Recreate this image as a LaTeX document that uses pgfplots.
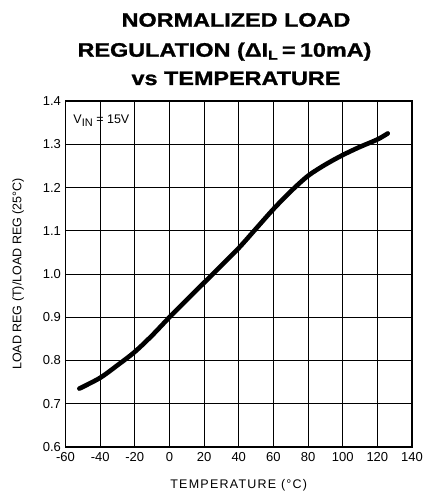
\documentclass[border=0pt]{standalone}
\usepackage{pgfplots}
\pgfplotsset{compat=1.18}
\usepackage{fontspec}
\setmainfont{Liberation Sans}
\newfontfamily\titlefont[FakeStretch=1.2, FakeBold=1.2]{Liberation Sans Bold}
\newfontfamily\xlabfont[LetterSpace=10]{Liberation Sans}
\begin{document}
\begin{tikzpicture}[x=1pt,y=1pt]
\path[use as bounding box] (-65.5,-49) rectangle (357.5,447);
\begin{scope}[every node/.style={font=\titlefont\fontsize{19.5}{24}\selectfont, anchor=base, inner sep=0pt}]
\node at (170.5,420.3) {NORMALIZED LOAD};
\node at (159,390.3) {REGULATION (ΔI\raisebox{-3pt}{\fontsize{13}{14}\selectfont L}\hspace{0.22em}=\hspace{0.22em}10mA)};
\node at (170.5,362) {vs TEMPERATURE};
\end{scope}
\begin{axis}[
  at={(0,0)}, anchor=south west,
  scale only axis, width=346.5pt, height=346pt,
  xmin=-60, xmax=140, ymin=0.6, ymax=1.4,
  xtick={-60,-40,...,140}, ytick={0.6,0.7,...,1.41},
  yticklabel style={xshift=-1pt, /pgf/number format/.cd, fixed, fixed zerofill, precision=1},
  /pgf/number format/assume math mode=true,
  tick label style={font=\fontsize{13}{14}\selectfont},
  xticklabel style={yshift=-2pt},
  major tick length=0pt,
  grid=major, grid style={black, line width=0.7pt},
  axis line style={line width=1.3pt},
  xlabel={\xlabfont TEMPERATURE (°C)},
  ylabel={LOAD REG (T)/LOAD REG (25°C)},
  label style={font=\fontsize{12.5}{14}\selectfont},
  xlabel style={at={(axis description cs:0.5,0)}, anchor=center, yshift=-38pt},
  ylabel style={at={(axis description cs:-0.137,0.5)}, anchor=center},
]
\addplot[black, line width=4.6pt, smooth, line cap=round] coordinates {
(-52,0.735) (-40,0.760) (-30,0.789) (-20,0.820) (-10,0.858) (0,0.900) (10,0.940)
(20,0.980) (30,1.020) (40,1.060) (50,1.105) (60,1.150) (70,1.191) (80,1.227)
(90,1.253) (100,1.275) (110,1.294) (120,1.311) (126,1.325)
};
\node[anchor=west, inner sep=0pt, font=\fontsize{12.5}{14}\selectfont] at (axis cs:-55.5,1.354) {V\raisebox{-3pt}{\fontsize{11}{12}\selectfont IN} = 15V};
\end{axis}
\end{tikzpicture}
\end{document}
